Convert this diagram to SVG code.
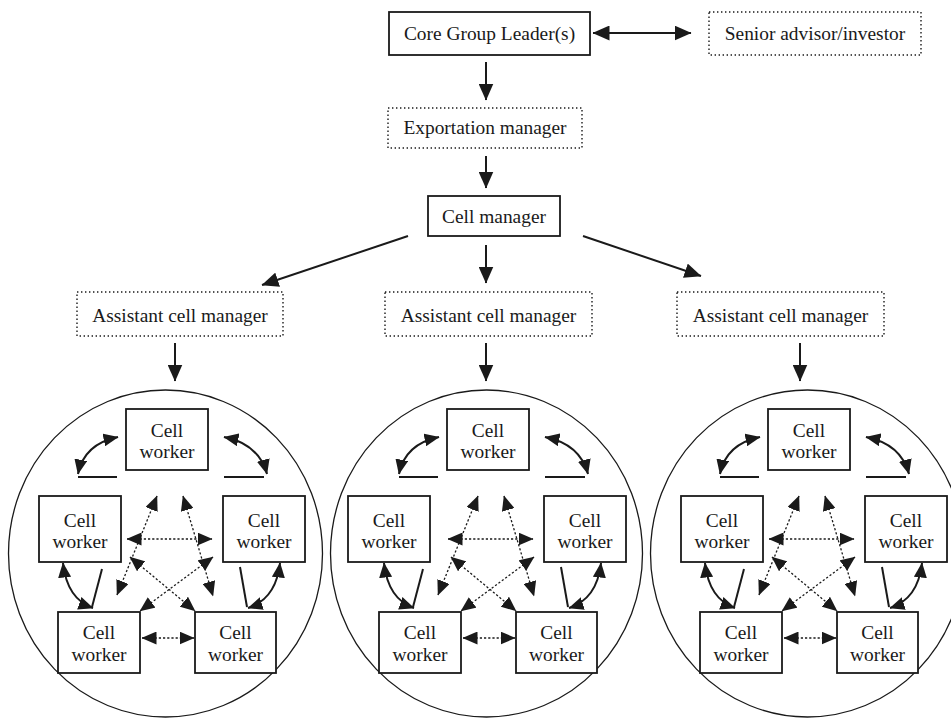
<svg xmlns="http://www.w3.org/2000/svg" width="951" height="719" viewBox="0 0 951 719">
<style>
  text { font-family: "Liberation Serif", "Times New Roman", "DejaVu Serif", serif; font-size: 19.4px; fill: #1a1a1a; text-anchor: middle; }
  .box { fill: #fff; stroke: #1a1a1a; stroke-width: 1.8; }
  .dbox { fill: #fff; stroke: #1a1a1a; stroke-width: 1.4; stroke-dasharray: 1.4 2.6; }
  .ring { fill: none; stroke: #1a1a1a; stroke-width: 1.3; }
  .arr { fill: none; stroke: #1a1a1a; stroke-width: 2; marker-end: url(#ah); }
  .arr2 { fill: none; stroke: #1a1a1a; stroke-width: 2; marker-start: url(#ah); marker-end: url(#ah); }
  .iarr2 { fill: none; stroke: #1a1a1a; stroke-width: 2; marker-start: url(#ahs); marker-end: url(#ahs); }
  .ln { fill: none; stroke: #1a1a1a; stroke-width: 2; }
  .dot2 { fill: none; stroke: #1a1a1a; stroke-width: 1.3; stroke-dasharray: 2.2 2; marker-start: url(#ahs); marker-end: url(#ahs); }
</style>
<defs>
  <marker id="ah" viewBox="0 0 17 15" refX="16.5" refY="7.5" markerWidth="17" markerHeight="15" markerUnits="userSpaceOnUse" orient="auto-start-reverse">
    <path d="M0,0 L17,7.5 L0,15 z" fill="#1a1a1a"/>
  </marker>
  <marker id="ahs" viewBox="0 0 15 13" refX="14.5" refY="6.5" markerWidth="15" markerHeight="13" markerUnits="userSpaceOnUse" orient="auto-start-reverse">
    <path d="M0,0 L15,6.5 L0,13 z" fill="#1a1a1a"/>
  </marker>
  <g id="inner-links">
    <path class="iarr2" d="M118,437 Q84,444 78,474"/>
    <line class="ln" x1="78" y1="477" x2="117" y2="477"/>
    <path class="iarr2" d="M224,437 Q259,444 267,474"/>
    <line class="ln" x1="224" y1="477" x2="264" y2="477"/>
    <path class="iarr2" d="M63,563 Q67,599 93,608"/>
    <line class="ln" x1="102" y1="569" x2="92" y2="607"/>
    <path class="iarr2" d="M280,563 Q276,599 248,608"/>
    <line class="ln" x1="240" y1="567" x2="247" y2="607"/>
    <line class="dot2" x1="127" y1="539" x2="212" y2="539"/>
    <line class="dot2" x1="157" y1="496" x2="117" y2="595"/>
    <line class="dot2" x1="183" y1="496" x2="213" y2="596"/>
    <line class="dot2" x1="130" y1="557" x2="195" y2="611"/>
    <line class="dot2" x1="213" y1="557" x2="140" y2="611"/>
    <line class="dot2" x1="142" y1="638" x2="194" y2="638"/>
  </g>
</defs>

<g id="connectors">
  <line class="arr2" x1="593" y1="33" x2="691" y2="33"/>
  <line class="arr" x1="486" y1="62" x2="486" y2="100"/>
  <line class="arr" x1="486" y1="156" x2="486" y2="188"/>
  <line class="arr" x1="408" y1="236" x2="262" y2="285"/>
  <line class="arr" x1="486" y1="245" x2="486" y2="283"/>
  <line class="arr" x1="583" y1="236" x2="701" y2="276"/>
  <line class="arr" x1="175" y1="343" x2="175" y2="381"/>
  <line class="arr" x1="486" y1="343" x2="486" y2="381"/>
  <line class="arr" x1="800" y1="343" x2="800" y2="381"/>
  <use href="#inner-links"/>
  <use href="#inner-links" transform="translate(321,0)"/>
  <use href="#inner-links" transform="translate(642,0)"/>
</g>

<g id="core-leader"><rect class="box" x="389" y="12" width="201" height="43"/><text x="489.5" y="40">Core Group Leader(s)</text></g>
<g id="senior-advisor"><rect class="dbox" x="709" y="12" width="212" height="43"/><text x="815" y="40">Senior advisor/investor</text></g>
<g id="exportation-manager"><rect class="dbox" x="388" y="108" width="194" height="40"/><text x="485" y="134">Exportation manager</text></g>
<g id="cell-manager"><rect class="box" x="428" y="196" width="132" height="40"/><text x="494" y="223">Cell manager</text></g>
<g id="assistant-left"><rect class="dbox" x="77" y="292" width="206" height="44"/><text x="180" y="322">Assistant cell manager</text></g>
<g id="assistant-middle"><rect class="dbox" x="385" y="292" width="207" height="44"/><text x="488.5" y="322">Assistant cell manager</text></g>
<g id="assistant-right"><rect class="dbox" x="677" y="292" width="207" height="44"/><text x="780.5" y="322">Assistant cell manager</text></g>

<g id="cell-left">
  <ellipse class="ring" cx="165.5" cy="553.5" rx="157" ry="163.5"/>
  <g id="l-top"><rect class="box" x="126" y="409" width="82" height="61"/><text x="167" y="437">Cell</text><text x="167" y="458">worker</text></g>
  <g id="l-left"><rect class="box" x="39" y="496" width="82" height="66"/><text x="80" y="527">Cell</text><text x="80" y="548">worker</text></g>
  <g id="l-right"><rect class="box" x="223" y="496" width="82" height="66"/><text x="264" y="527">Cell</text><text x="264" y="548">worker</text></g>
  <g id="l-botleft"><rect class="box" x="58" y="612" width="82" height="61"/><text x="99" y="639">Cell</text><text x="99" y="661">worker</text></g>
  <g id="l-botright"><rect class="box" x="195" y="612" width="81" height="61"/><text x="235.5" y="639">Cell</text><text x="235.5" y="661">worker</text></g>
</g>

<g id="cell-middle">
  <ellipse class="ring" cx="486.5" cy="553.5" rx="156" ry="163.5"/>
  <g id="m-top"><rect class="box" x="447" y="409" width="82" height="61"/><text x="488" y="437">Cell</text><text x="488" y="458">worker</text></g>
  <g id="m-left"><rect class="box" x="348" y="496" width="82" height="66"/><text x="389" y="527">Cell</text><text x="389" y="548">worker</text></g>
  <g id="m-right"><rect class="box" x="544" y="496" width="82" height="66"/><text x="585" y="527">Cell</text><text x="585" y="548">worker</text></g>
  <g id="m-botleft"><rect class="box" x="379" y="612" width="82" height="61"/><text x="420" y="639">Cell</text><text x="420" y="661">worker</text></g>
  <g id="m-botright"><rect class="box" x="516" y="612" width="81" height="61"/><text x="556.5" y="639">Cell</text><text x="556.5" y="661">worker</text></g>
</g>

<g id="cell-right">
  <ellipse class="ring" cx="807.5" cy="553.5" rx="157" ry="163.5"/>
  <g id="r-top"><rect class="box" x="768" y="409" width="82" height="61"/><text x="809" y="437">Cell</text><text x="809" y="458">worker</text></g>
  <g id="r-left"><rect class="box" x="681" y="496" width="82" height="66"/><text x="722" y="527">Cell</text><text x="722" y="548">worker</text></g>
  <g id="r-right"><rect class="box" x="865" y="496" width="82" height="66"/><text x="906" y="527">Cell</text><text x="906" y="548">worker</text></g>
  <g id="r-botleft"><rect class="box" x="700" y="612" width="82" height="61"/><text x="741" y="639">Cell</text><text x="741" y="661">worker</text></g>
  <g id="r-botright"><rect class="box" x="837" y="612" width="81" height="61"/><text x="877.5" y="639">Cell</text><text x="877.5" y="661">worker</text></g>
</g>
</svg>
